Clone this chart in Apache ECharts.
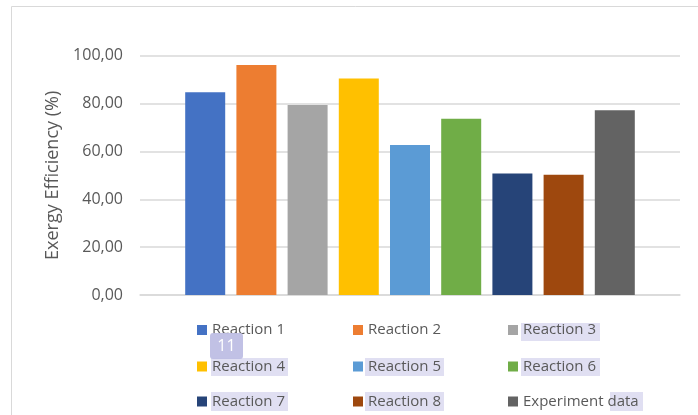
<!DOCTYPE html>
<html>
<head>
<meta charset="utf-8">
<script src="https://cdn.jsdelivr.net/npm/echarts@6/dist/echarts.min.js"></script>
<style>
html,body{margin:0;padding:0;background:#fff;}
#c{width:698px;height:415px;}
</style>
</head>
<body>
<div id="c"></div>
<script>
const seriesNames = ['Reaction 1','Reaction 2','Reaction 3','Reaction 4','Reaction 5','Reaction 6','Reaction 7','Reaction 8','Experiment data'];
const values = [84.7, 96.1, 79.4, 90.5, 62.7, 73.7, 50.8, 50.3, 77.2];
const colors = ['#4472C4','#ED7D31','#A5A5A5','#FFC000','#5B9BD5','#70AD47','#264478','#9E480E','#636363'];
const yTicks = [0, 20, 40, 60, 80, 100];
const yTitle = 'Exergy Efficiency (%)';

const FONT = 'Open Sans';
const chart = echarts.init(document.getElementById('c'), null, {renderer:'canvas'});

const series = seriesNames.map((n,i)=>({
  name:n, type:'bar', data:[values[i]], barWidth:40, barGap:'28%',
  itemStyle:{color:colors[i]}
}));

const colLeft = [197, 353, 508];
const rowTop = [320, 356.5, 391.5];
const legends = seriesNames.map((n,i)=>({
  orient:'horizontal', left:colLeft[i%3], top:rowTop[Math.floor(i/3)], padding:0,
  itemWidth:10, itemHeight:10, icon:'rect',
  data:[n],
  textStyle:{fontFamily:FONT, fontSize:15, color:'#595959', lineHeight:20},
  selectedMode:false
}));

const hl = 'rgba(214,212,238,0.75)';
const hlRects = [
  [521,323,79,18],[211,358,77,18],[365,358,79,18],[521,358,79,18],
  [211,392,77,19],[365,392,79,19],[610,392,33,19]
];
const graphic = hlRects.map(r=>({type:'rect', shape:{x:r[0],y:r[1],width:r[2],height:r[3]}, style:{fill:hl}, z:-1, silent:true}));
graphic.push({type:'rect', shape:{x:11.5,y:6.5,width:700,height:420}, style:{fill:'none', stroke:'#d9d9d9', lineWidth:1}, z:-2, silent:true});
graphic.push({type:'rect', shape:{x:210,y:333,width:33,height:26,r:3}, style:{fill:'rgba(190,190,228,0.95)'}, z:100, silent:true});
graphic.push({type:'text', x:226.5, y:346, style:{text:'11', fill:'#ffffff', font:'16px "Open Sans"', textAlign:'center', textVerticalAlign:'middle'}, z:101, silent:true});

chart.setOption({
  animation:false,
  color:colors,
  grid:{left:140, right:18, top:55.7, bottom:120},
  xAxis:{type:'category', data:[''], axisTick:{show:false}, axisLabel:{show:false},
    axisLine:{lineStyle:{color:'#d9d9d9', width:1.5}}},
  yAxis:{type:'value', min:yTicks[0], max:yTicks[yTicks.length-1], interval:20,
    name:yTitle, nameLocation:'middle', nameGap:71,
    nameTextStyle:{fontFamily:FONT, fontSize:18, color:'#595959'},
    axisLine:{show:false}, axisTick:{show:false},
    axisLabel:{fontFamily:FONT, fontSize:16, color:'#595959', margin:17,
      formatter:v=>v.toFixed(2).replace('.',',')},
    splitLine:{lineStyle:{color:'#d9d9d9', width:1.5}}},
  legend:legends,
  graphic:graphic,
  series:series
});
</script>
</body>
</html>
